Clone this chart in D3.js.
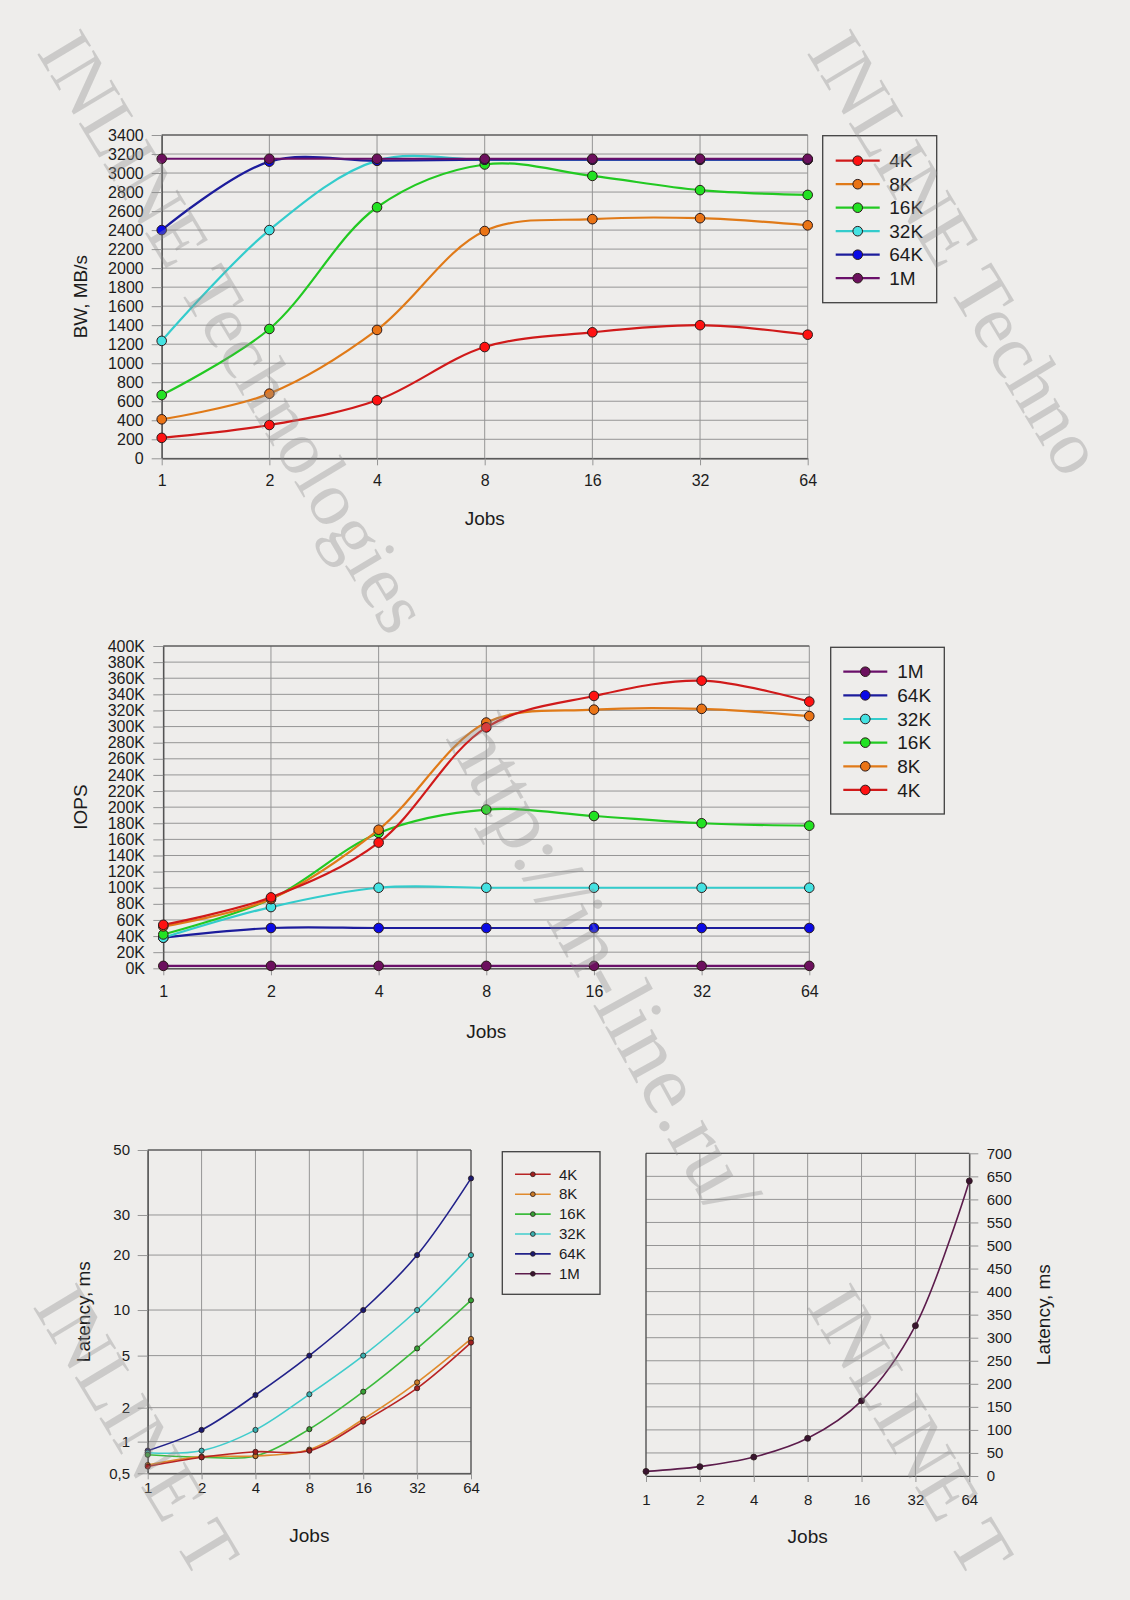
<!DOCTYPE html>
<html>
<head>
<meta charset="utf-8">
<script src="https://cdn.jsdelivr.net/npm/d3@7"></script>
<style>
  body { margin: 0; background: #eeedeb; }
  svg { display: block; }
</style>
</head>
<body>
<div id="chart"></div>
<script>
// x categories (number of jobs)
const jobs = [1, 2, 4, 8, 16, 32, 64];

// bandwidth, MB/s
const bw4K = [215, 350, 610, 1170, 1325, 1400, 1300];
const bw8K = [410, 680, 1350, 2390, 2515, 2525, 2450];
const bw16K = [665, 1360, 2640, 3090, 2970, 2820, 2770];
const bw32K = [1235, 2400, 3130, 3140, 3140, 3140, 3140];
const bw64K = [2400, 3120, 3130, 3140, 3140, 3140, 3140];
const bw1M = [3150, 3150, 3150, 3150, 3150, 3150, 3150];

// IOPS, thousands
const iops4K = [54, 88, 156, 299, 338, 357, 331];
const iops8K = [52, 86, 172, 305, 321, 322, 313];
const iops16K = [42, 86, 168, 197, 189, 180, 177];
const iops32K = [38, 76, 100, 100, 100, 100, 100];
const iops64K = [38, 50, 50, 50, 50, 50, 50];
const iops1M = [3, 3, 3, 3, 3, 3, 3];

// latency, ms
const lat4K = [0.58, 0.71, 0.80, 0.82, 1.5, 2.82, 6.1];
const lat8K = [0.60, 0.72, 0.73, 0.84, 1.58, 3.12, 6.44];
const lat16K = [0.75, 0.71, 0.73, 1.29, 2.65, 5.58, 11.3];
const lat32K = [0.785, 0.82, 1.27, 2.53, 5.0, 10.0, 20.0];
const lat64K = [0.82, 1.27, 2.5, 5.0, 10.0, 20.0, 40.0];
const lat1M = [10, 20.3, 41, 81.7, 163, 326, 640];

// tick values and labels
const bwTicks = [0, 200, 400, 600, 800, 1000, 1200, 1400, 1600, 1800, 2000, 2200, 2400, 2600, 2800, 3000, 3200, 3400];
const iopsTicks = [0, 20, 40, 60, 80, 100, 120, 140, 160, 180, 200, 220, 240, 260, 280, 300, 320, 340, 360, 380, 400];
const latTicks = [0.5, 1, 2, 5, 10, 20, 30, 50];
const latTickLabels = ["0,5", "1", "2", "5", "10", "20", "30", "50"];
const lat1MTicks = [0, 50, 100, 150, 200, 250, 300, 350, 400, 450, 500, 550, 600, 650, 700];

// styles
const sans = "'Liberation Sans', Arial, sans-serif";
const textColor = "#1c1c1c";
const gridColor = "#959595";
const frameColor = "#404040";

const bigColors = {
    "4K": { line: "#d01a1a", fill: "#ff1212" },
    "8K": { line: "#e07a18", fill: "#ea7416" },
    "16K": { line: "#22c922", fill: "#22e222" },
    "32K": { line: "#33cccc", fill: "#44e2e2" },
    "64K": { line: "#1c1c9c", fill: "#0a0ae6" },
    "1M": { line: "#6a106a", fill: "#6c105e" }
};
const smallColors = {
    "4K": { line: "#b82424", fill: "#a02020" },
    "8K": { line: "#e08a2c", fill: "#c87a28" },
    "16K": { line: "#3cbb3c", fill: "#36a036" },
    "32K": { line: "#40cccc", fill: "#38b0b0" },
    "64K": { line: "#22228a", fill: "#1a1a70" },
    "1M": { line: "#5c1c4c", fill: "#3a1430" }
};

const svg = d3.select("#chart")
    .append("svg")
    .attr("width", 1130)
    .attr("height", 1600)
    .attr("viewBox", "0 0 1130 1600");

const drawPanel = opt => {
    const x = d3.scaleLog().base(2)
        .domain([1, 64])
        .range([opt.left, opt.right]);
    const g = svg.append("g");

    // grid
    g.append("g").selectAll("line")
        .data(opt.yTicks)
        .join("line")
            .attr("x1", opt.left).attr("x2", opt.right)
            .attr("y1", d => opt.y(d)).attr("y2", d => opt.y(d))
            .attr("stroke", gridColor);
    g.append("g").selectAll("line")
        .data(jobs)
        .join("line")
            .attr("x1", d => x(d)).attr("x2", d => x(d))
            .attr("y1", opt.top).attr("y2", opt.bottom)
            .attr("stroke", gridColor);

    // frame
    g.append("line")
        .attr("x1", opt.left).attr("x2", opt.right)
        .attr("y1", opt.top).attr("y2", opt.top)
        .attr("stroke", frameColor);
    if (opt.closeSide) {
        const fx = opt.yRight ? opt.left : opt.right;
        g.append("line")
            .attr("x1", fx).attr("x2", fx)
            .attr("y1", opt.top).attr("y2", opt.bottom)
            .attr("stroke", frameColor);
    }

    // axes
    const yAxis = (opt.yRight ? d3.axisRight(opt.y) : d3.axisLeft(opt.y))
        .tickValues(opt.yTicks)
        .tickFormat(opt.yFormat)
        .tickSize(opt.yTickSize)
        .tickSizeOuter(0)
        .tickPadding(opt.yPad);
    const ya = g.append("g")
        .attr("transform", `translate(${opt.yRight ? opt.right : opt.left},0)`)
        .call(yAxis);

    const xAxis = d3.axisBottom(x)
        .tickValues(jobs)
        .tickFormat(d3.format("d"))
        .tickSize(opt.xTickSize)
        .tickSizeOuter(0)
        .tickPadding(opt.xPad);
    const xa = g.append("g")
        .attr("transform", `translate(0,${opt.bottom})`)
        .call(xAxis);

    [ya, xa].forEach(a => {
        a.select(".domain").attr("stroke", frameColor).attr("stroke-width", 1.2);
        a.selectAll(".tick line").attr("stroke", gridColor);
        a.selectAll(".tick text")
            .attr("fill", textColor)
            .style("font-family", sans)
            .style("font-size", `${opt.fontSize}px`);
    });

    // titles
    g.append("text")
        .text("Jobs")
        .attr("x", (opt.left + opt.right) / 2)
        .attr("y", opt.xTitleY)
        .attr("text-anchor", "middle")
        .attr("fill", textColor)
        .style("font-family", sans)
        .style("font-size", "19px");
    g.append("text")
        .text(opt.yTitle)
        .attr("transform", `translate(${opt.yTitleX + 6.6},${(opt.top + opt.bottom) / 2}) rotate(-90)`)
        .attr("text-anchor", "middle")
        .attr("fill", textColor)
        .style("font-family", sans)
        .style("font-size", "19px");

    // series
    const lineGenerator = d3.line()
        .x((d, i) => x(jobs[i]))
        .y(d => opt.y(d))
        .curve(d3.curveCatmullRom);

    opt.series.forEach(s => {
        const c = opt.colors[s.name];
        g.append("path")
            .datum(s.values)
            .attr("d", lineGenerator)
            .attr("fill", "none")
            .attr("stroke", c.line)
            .attr("stroke-width", opt.lineWidth);
        g.append("g").selectAll("circle")
            .data(s.values)
            .join("circle")
                .attr("cx", (d, i) => x(jobs[i]))
                .attr("cy", d => opt.y(d))
                .attr("r", opt.markerR)
                .attr("fill", c.fill)
                .attr("stroke", "#2a1a1a")
                .attr("stroke-width", opt.markerStroke);
    });
};

const drawLegend = opt => {
    const g = svg.append("g");
    g.append("rect")
        .attr("x", opt.x).attr("y", opt.y)
        .attr("width", opt.w).attr("height", opt.h)
        .attr("fill", "none")
        .attr("stroke", frameColor)
        .attr("stroke-width", 1.3);
    const rows = g.selectAll("g")
        .data(opt.names)
        .join("g")
            .attr("transform", (d, i) => `translate(0,${opt.rowY + i * opt.step})`);
    rows.append("line")
        .attr("x1", opt.lineX1).attr("x2", opt.lineX2)
        .attr("stroke", d => opt.colors[d].line)
        .attr("stroke-width", opt.lineWidth);
    rows.append("circle")
        .attr("cx", (opt.lineX1 + opt.lineX2) / 2)
        .attr("r", opt.markerR)
        .attr("fill", d => opt.colors[d].fill)
        .attr("stroke", "#2a1a1a")
        .attr("stroke-width", opt.markerStroke);
    rows.append("text")
        .text(d => d)
        .attr("x", opt.textX)
        .attr("dy", "0.35em")
        .attr("fill", textColor)
        .style("font-family", sans)
        .style("font-size", `${opt.fontSize}px`);
};

// watermarks (only the parts that fit on the page)
const watermarks = [
    { text: "INLINE Technologies", x: 36, y: 52, size: 77, angle: 59 },
    { text: "INLINE Techno", x: 806, y: 52, size: 77, angle: 59 },
    { text: "http://in-line.ru/", x: 445, y: 738, size: 87, angle: 61 },
    { text: "INLINE T", x: 32, y: 1306, size: 77, angle: 59 },
    { text: "INLINE T", x: 806, y: 1306, size: 77, angle: 59 }
];
const wm = svg.append("g");

// chart 1: bandwidth
drawPanel({
    left: 161.7, right: 807.7, top: 135, bottom: 458.3,
    y: d3.scaleLinear().domain([0, 3400]).range([458.3, 135]),
    yTicks: bwTicks, yFormat: d3.format("d"),
    yTickSize: 10, yPad: 8, xTickSize: 7, xPad: 9, fontSize: 16,
    xTitleY: 525, yTitleX: 80, yTitle: "BW, MB/s",
    lineWidth: 2.2, markerR: 4.8, markerStroke: 1,
    colors: bigColors,
    series: [
        { name: "4K", values: bw4K },
        { name: "8K", values: bw8K },
        { name: "16K", values: bw16K },
        { name: "32K", values: bw32K },
        { name: "64K", values: bw64K },
        { name: "1M", values: bw1M }
    ]
});
drawLegend({
    x: 822.7, y: 135.7, w: 114, h: 167, rowY: 160.7, step: 23.5,
    lineX1: 835.7, lineX2: 879.7, textX: 889.3, fontSize: 19,
    lineWidth: 2.2, markerR: 4.8, markerStroke: 1, colors: bigColors,
    names: ["4K", "8K", "16K", "32K", "64K", "1M"]
});

// chart 2: IOPS
drawPanel({
    left: 163.3, right: 809.3, top: 646, bottom: 968.3,
    y: d3.scaleLinear().domain([0, 400]).range([968.3, 646]),
    yTicks: iopsTicks, yFormat: d => `${d}K`,
    yTickSize: 10, yPad: 8.3, xTickSize: 7, xPad: 10, fontSize: 16,
    xTitleY: 1037.6, yTitleX: 80, yTitle: "IOPS",
    lineWidth: 2.2, markerR: 4.8, markerStroke: 1,
    colors: bigColors,
    series: [
        { name: "1M", values: iops1M },
        { name: "64K", values: iops64K },
        { name: "32K", values: iops32K },
        { name: "16K", values: iops16K },
        { name: "8K", values: iops8K },
        { name: "4K", values: iops4K }
    ]
});
drawLegend({
    x: 830.7, y: 647.3, w: 113.6, h: 166.7, rowY: 671.7, step: 23.65,
    lineX1: 843.3, lineX2: 887.3, textX: 897.3, fontSize: 19,
    lineWidth: 2.2, markerR: 4.8, markerStroke: 1, colors: bigColors,
    names: ["1M", "64K", "32K", "16K", "8K", "4K"]
});

// chart 3: latency (small blocks), uneven logarithmic axis as in the source
const latFrac = [1, 0.902, 0.797, 0.636, 0.495, 0.325, 0.201, 0];
drawPanel({
    left: 147.7, right: 471, top: 1150, bottom: 1473.3,
    y: d3.scaleLog().domain(latTicks).range(latFrac.map(f => 1150 + f * (1473.3 - 1150))),
    yTicks: latTicks, yFormat: (d, i) => latTickLabels[i],
    yTickSize: 10, yPad: 7.7, xTickSize: 6, xPad: 3.5, fontSize: 15,
    xTitleY: 1542, yTitleX: 83, yTitle: "Latency, ms",
    closeSide: true,
    lineWidth: 1.6, markerR: 2.6, markerStroke: 0.8,
    colors: smallColors,
    series: [
        { name: "64K", values: lat64K },
        { name: "32K", values: lat32K },
        { name: "16K", values: lat16K },
        { name: "8K", values: lat8K },
        { name: "4K", values: lat4K }
    ]
});
drawLegend({
    x: 502.3, y: 1151.7, w: 97.7, h: 142.6, rowY: 1174.3, step: 19.9,
    lineX1: 515, lineX2: 550.7, textX: 559, fontSize: 15,
    lineWidth: 1.6, markerR: 2.4, markerStroke: 0.8, colors: smallColors,
    names: ["4K", "8K", "16K", "32K", "64K", "1M"]
});

// chart 4: latency 1M
drawPanel({
    left: 646, right: 969.3, top: 1153.3, bottom: 1476,
    y: d3.scaleLinear().domain([0, 700]).range([1476, 1153.3]),
    yTicks: lat1MTicks, yFormat: d3.format("d"), yRight: true,
    yTickSize: 9, yPad: 8.4, xTickSize: 6, xPad: 12.6, fontSize: 15,
    xTitleY: 1542.6, yTitleX: 1043.3, yTitle: "Latency, ms",
    closeSide: true,
    lineWidth: 1.6, markerR: 3, markerStroke: 0.8,
    colors: smallColors,
    series: [{ name: "1M", values: lat1M }]
});

// watermarks on top, translucent
wm.raise();
wm.selectAll("text")
    .data(watermarks)
    .join("text")
        .text(d => d.text)
        .attr("transform", d => `translate(${d.x},${d.y}) rotate(${d.angle})`)
        .attr("fill", "#8c8c8c")
        .attr("fill-opacity", 0.36)
        .style("font-family", "'Liberation Serif', 'Times New Roman', serif")
        .style("font-size", d => `${d.size}px`);
</script>
</body>
</html>
